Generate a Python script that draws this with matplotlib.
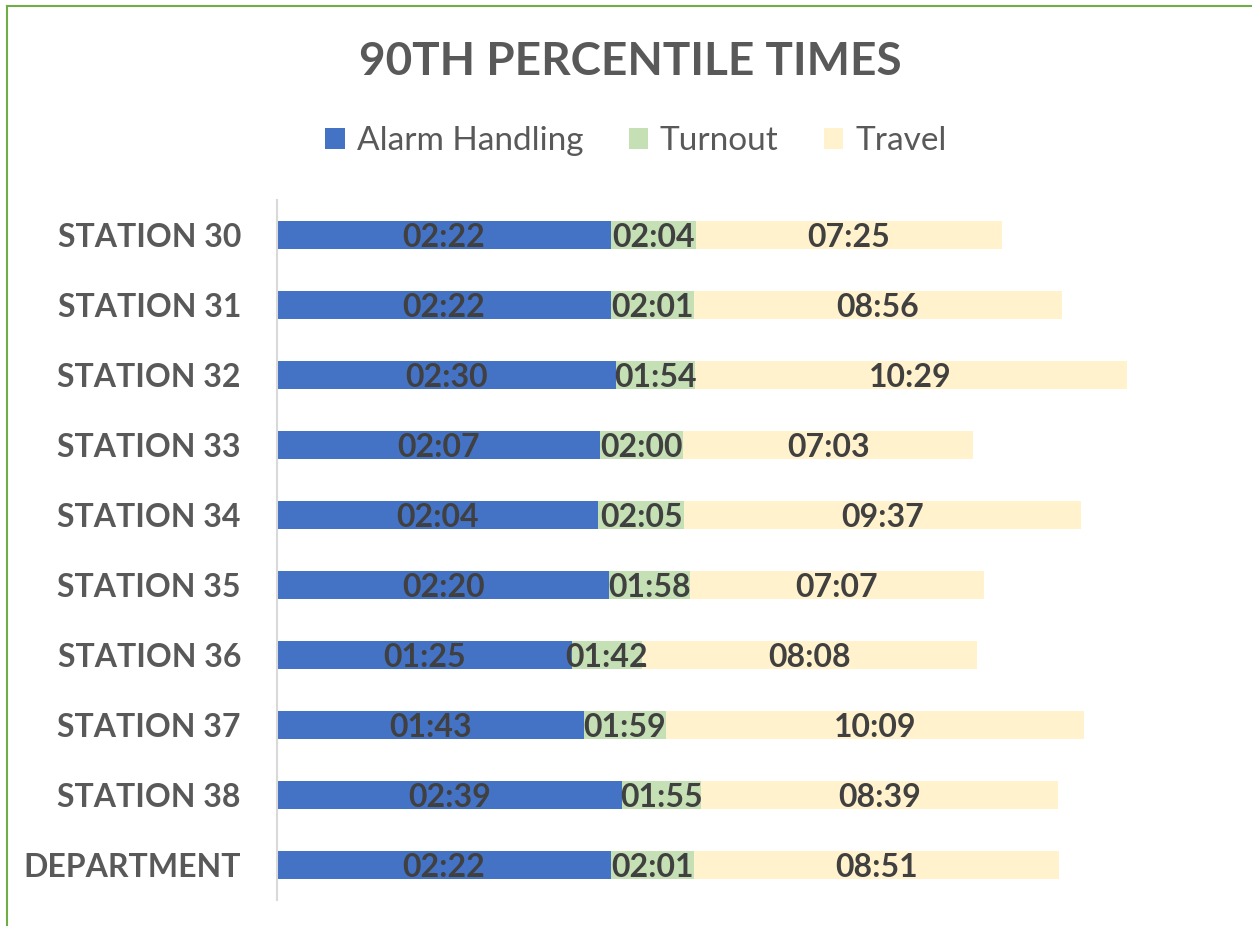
import matplotlib
matplotlib.use("Agg")
import matplotlib.pyplot as plt
from matplotlib.patches import Patch
from matplotlib.lines import Line2D

categories = ["STATION 30", "STATION 31", "STATION 32", "STATION 33", "STATION 34",
              "STATION 35", "STATION 36", "STATION 37", "STATION 38", "DEPARTMENT"]
alarm_handling = ["02:22", "02:22", "02:30", "02:07", "02:04", "02:20", "01:25", "01:43", "02:39", "02:22"]
turnout = ["02:04", "02:01", "01:54", "02:00", "02:05", "01:58", "01:42", "01:59", "01:55", "02:01"]
travel = ["07:25", "08:56", "10:29", "07:03", "09:37", "07:07", "08:08", "10:09", "08:39", "08:51"]
series_names = ["Alarm Handling", "Turnout", "Travel"]

AXIS_MIN = -344   # seconds; horizontal axis starts below zero
AXIS_MAX = 1000

def to_sec(t):
    m, s = t.split(":")
    return int(m) * 60 + int(s)

a = [to_sec(v) for v in alarm_handling]
t = [to_sec(v) for v in turnout]
r = [to_sec(v) for v in travel]

plt.rcParams['font.family'] = ['Lato', 'DejaVu Sans']

colors = ["#4472C4", "#C5E0B4", "#FFF2CC"]
label_color = "#404040"
text_gray = "#595959"

W, H = 1252, 926
fig = plt.figure(figsize=(W / 100, H / 100), dpi=100)
ax = fig.add_axes([277 / W, 1 - 900 / H, 923 / W, 700 / H])

y = list(range(len(categories)))
bh = 0.4
alarm_w = [v - AXIS_MIN for v in a]
ax.barh(y, alarm_w, left=AXIS_MIN, height=bh, color=colors[0])
ax.barh(y, t, left=a, height=bh, color=colors[1])
left3 = [ai + ti for ai, ti in zip(a, t)]
ax.barh(y, r, left=left3, height=bh, color=colors[2])

lab_kw = dict(ha="center", va="center_baseline", fontsize=23, fontweight="bold", color=label_color)
for i in y:
    ax.text((AXIS_MIN + a[i]) / 2, i, alarm_handling[i], **lab_kw)
    ax.text(a[i] + t[i] / 2, i, turnout[i], **lab_kw)
    ax.text(left3[i] + r[i] / 2, i, travel[i], **lab_kw)

ax.set_xlim(AXIS_MIN, AXIS_MAX)
ax.set_ylim(len(categories) - 0.5, -0.5)
ax.set_yticks(y)
ax.set_yticklabels(categories, fontsize=23, fontweight="bold", color=text_gray)
ax.tick_params(axis="y", length=0, pad=26)
ax.set_xticks([])
for s in ["top", "right", "bottom"]:
    ax.spines[s].set_visible(False)
ax.spines["left"].set_color("#D9D9D9")
ax.spines["left"].set_linewidth(1.5)

fig.text(630 / W, 1 - 62 / H, "90TH PERCENTILE TIMES", ha="center", va="center",
         fontsize=33, fontweight="bold", color=text_gray)

handles = [Patch(facecolor=c, edgecolor="none") for c in colors]
leg = fig.legend(handles, series_names, loc="center", bbox_to_anchor=(636 / W, 1 - 141 / H),
                 ncol=3, frameon=False, fontsize=24, handlelength=0.58, handleheight=0.58,
                 handletextpad=0.36, columnspacing=1.36)
for txt in leg.get_texts():
    txt.set_color(text_gray)

# chart area border (partially visible)
green = "#70AD47"
fig.add_artist(Line2D([7 / W, 7 / W], [0, 1 - 6 / H], color=green, lw=1.5, transform=fig.transFigure))
fig.add_artist(Line2D([7 / W, 1], [1 - 6 / H, 1 - 6 / H], color=green, lw=1.5, transform=fig.transFigure))

fig.savefig("out.png", dpi=100)
